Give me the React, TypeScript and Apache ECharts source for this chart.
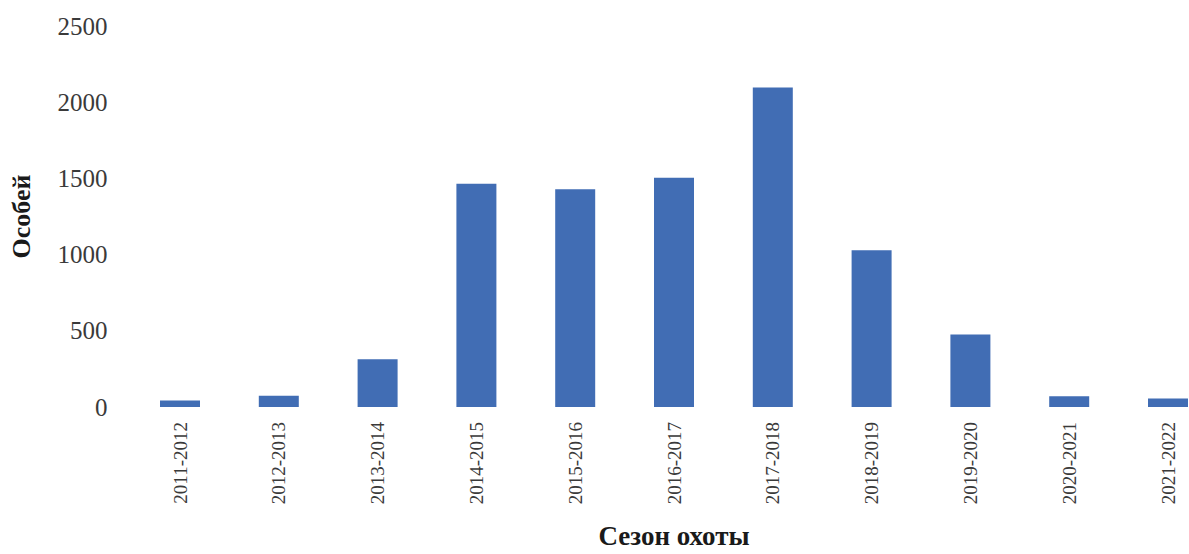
import React, { useEffect, useRef } from "react";
import * as echarts from "echarts";

const seasons = [
  "2011-2012", "2012-2013", "2013-2014", "2014-2015", "2015-2016", "2016-2017",
  "2017-2018", "2018-2019", "2019-2020", "2020-2021", "2021-2022",
];
const animals = [42, 74, 314, 1465, 1428, 1504, 2097, 1029, 475, 70, 55];
const yTicks = { min: 0, max: 2500, interval: 500 };

export default function App() {
  const ref = useRef<HTMLDivElement>(null);
  useEffect(() => {
    document.body.style.margin = "0";
    document.body.style.overflow = "hidden";
    const chart = echarts.init(ref.current!, null, { renderer: "svg" });
    const font = "'Liberation Serif', 'Times New Roman', serif";
    chart.setOption({
      animation: false,
      backgroundColor: "#ffffff",
      grid: { left: 130.6, right: 0.6, top: 26, bottom: 141.5, containLabel: false },
      xAxis: {
        type: "category",
        data: seasons,
        axisLine: { show: false },
        axisTick: { show: false },
        axisLabel: {
          interval: 0,
          rotate: 90,
          margin: 15,
          fontSize: 19,
          fontFamily: font,
          color: "#3a3a3a",
        },
        name: "Сезон охоты",
        nameLocation: "middle",
        nameGap: 115,
        nameTextStyle: { fontSize: 27, fontWeight: "bold", fontFamily: font, color: "#1a1a1a" },
      },
      yAxis: {
        type: "value",
        min: yTicks.min,
        max: yTicks.max,
        interval: yTicks.interval,
        axisLine: { show: false },
        axisTick: { show: false },
        splitLine: { show: false },
        axisLabel: {
          fontSize: 25,
          fontFamily: font,
          color: "#3a3a3a",
          margin: 23,
          formatter: (v: number) => String(v),
        },
        name: "Особей",
        nameLocation: "middle",
        nameGap: 96,
        nameTextStyle: { fontSize: 26, fontWeight: "bold", fontFamily: font, color: "#1a1a1a" },
      },
      series: [
        {
          type: "bar",
          data: animals,
          barWidth: 40,
          itemStyle: { color: "#416db4" },
        },
      ],
    });
    return () => chart.dispose();
  }, []);
  return <div ref={ref} style={{ width: 1218, height: 554 }} />;
}
